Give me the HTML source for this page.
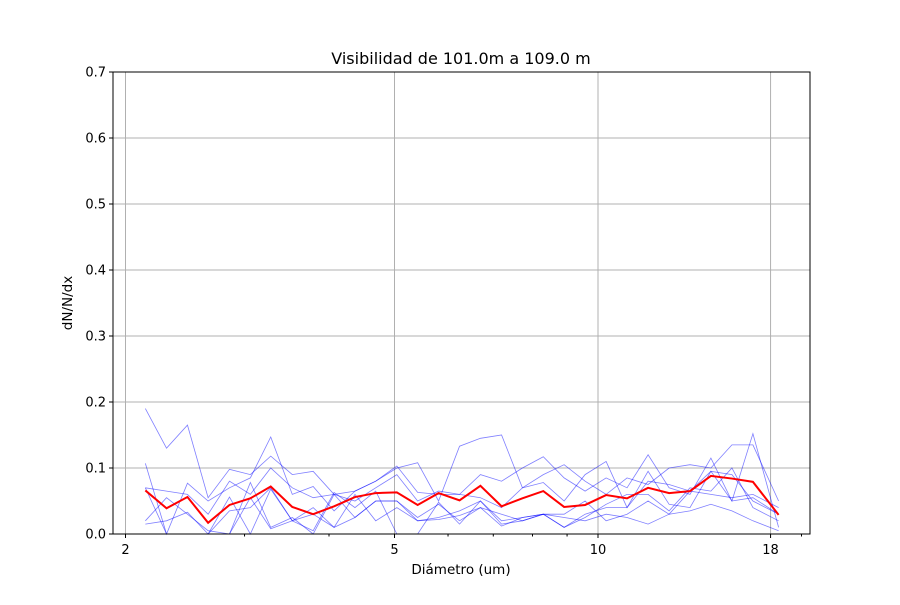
<!DOCTYPE html>
<html><head><meta charset="utf-8"><style>
html,body{margin:0;padding:0;background:#fff}
svg text{font-family:"DejaVu Sans","Liberation Sans",sans-serif;fill:#000}
</style></head><body>
<svg id="chart" width="900" height="600" xmlns="http://www.w3.org/2000/svg">
<rect width="900" height="600" fill="#fff"/>
<g id="grid"></g>
<g id="series"></g>
<g id="axes"></g>
<text x="461" y="64" font-size="16" text-anchor="middle">Visibilidad de 101.0m a 109.0 m</text>
<text x="461" y="574" font-size="13.5" text-anchor="middle">Diámetro (um)</text>
<text transform="translate(72,303) rotate(-90)" font-size="13.5" text-anchor="middle">dN/N/dx</text>
</svg>
<script>
const diameters=[2.14,2.3,2.47,2.65,2.85,3.06,3.28,3.53,3.79,4.07,4.37,4.69,5.04,5.41,5.81,6.24,6.7,7.2,7.73,8.3,8.91,9.57,10.28,11.04,11.86,12.74,13.68,14.69,15.78,16.95,18.5];
const meanSeries=[0.066,0.039,0.056,0.017,0.044,0.054,0.072,0.041,0.030,0.042,0.056,0.062,0.063,0.044,0.062,0.051,0.073,0.042,0.054,0.065,0.041,0.044,0.059,0.054,0.070,0.062,0.065,0.088,0.084,0.079,0.029];
const s1=[0.19,0.13,0.165,0.055,0.098,0.09,0.118,0.09,0.095,0.06,0.065,0.08,0.1,0.108,0.05,0.133,0.145,0.15,0.07,0.09,0.105,0.08,0.06,0.085,0.075,0.1,0.105,0.1,0.135,0.135,0.05];
const s2=[0.107,0.0,0.077,0.05,0.07,0.085,0.147,0.06,0.072,0.035,0.065,0.08,0.103,0.063,0.06,0.06,0.09,0.08,0.1,0.117,0.085,0.065,0.085,0.07,0.12,0.07,0.06,0.115,0.05,0.152,0.01];
const s3=[0.07,0.065,0.06,0.03,0.08,0.06,0.1,0.07,0.055,0.06,0.05,0.07,0.09,0.05,0.065,0.06,0.055,0.04,0.07,0.078,0.05,0.09,0.11,0.04,0.08,0.075,0.065,0.095,0.09,0.05,0.03];
const s4=[0.015,0.02,0.033,0.0,0.035,0.04,0.07,0.02,0.04,0.01,0.06,0.02,0.04,0.02,0.025,0.035,0.05,0.015,0.02,0.03,0.01,0.03,0.04,0.04,0.095,0.045,0.04,0.095,0.05,0.055,0.03];
const s5=[0.07,0.0,0.0,0.0,0.056,0.0,0.068,0.02,0.005,0.063,0.04,0.065,0.0,0.0,0.048,0.015,0.05,0.02,0.025,0.03,0.01,0.025,0.045,0.06,0.06,0.035,0.07,0.065,0.1,0.04,0.02];
const s6=[0.0,0.0,0.0,0.0,0.0,0.078,0.01,0.025,0.0,0.06,0.025,0.05,0.05,0.025,0.045,0.02,0.04,0.03,0.02,0.03,0.025,0.02,0.03,0.025,0.015,0.03,0.035,0.045,0.035,0.02,0.005];
const s7=[0.02,0.055,0.03,0.005,0.0,0.055,0.008,0.02,0.03,0.01,0.025,0.05,0.05,0.02,0.022,0.028,0.04,0.012,0.025,0.03,0.03,0.05,0.02,0.03,0.05,0.03,0.065,0.06,0.055,0.06,0.04];
const xTicks=[2,5,10,18];
const xMinor=[3,4,6,7,8,9,20];
const yTicks=[0,0.1,0.2,0.3,0.4,0.5,0.6,0.7];
const L=113,R=810,T=72,B=534;
const xs=v=>598+676*Math.log10(v/10);
const ys=v=>B-(v/0.7)*(B-T);
const NS='http://www.w3.org/2000/svg';
function mk(tag,attrs,parent){const e=document.createElementNS(NS,tag);for(const k in attrs)e.setAttribute(k,attrs[k]);parent.appendChild(e);return e;}
const grid=document.getElementById('grid'),ser=document.getElementById('series'),ax=document.getElementById('axes');
yTicks.forEach(t=>{
 const g=mk('line',{x1:L,x2:R,y1:ys(t),y2:ys(t),stroke:'#b0b0b0','stroke-width':1},grid);
 
 
 const tk=mk('line',{x1:L-4,x2:L,y1:ys(t),y2:ys(t),stroke:'#000'},ax);
 
 
 const tx=mk('text',{x:L-7,y:ys(t)+4.5,'font-size':13,'text-anchor':'end'},ax);
 tx.textContent=t.toFixed(1);
 
 
});
xTicks.forEach(t=>{
 const g=mk('line',{x1:xs(t),x2:xs(t),y1:T,y2:B,stroke:'#b0b0b0','stroke-width':1},grid);
 
 
 const tk=mk('line',{x1:xs(t),x2:xs(t),y1:B,y2:B+4,stroke:'#000'},ax);
 
 
 const tx=mk('text',{x:xs(t),y:B+20,'font-size':13,'text-anchor':'middle'},ax);
 tx.textContent=String(t);
 
 
});
xMinor.forEach(t=>{
 const tk=mk('line',{x1:xs(t),x2:xs(t),y1:B,y2:B+2.5,stroke:'#000'},ax);
 
 
});
[s1,s2,s3,s4,s5,s6,s7].forEach(s=>{
 const p=mk('polyline',{points:s.map((v,i)=>xs(diameters[i])+','+ys(v)).join(' '),fill:'none',stroke:'#0000ff','stroke-opacity':0.5,'stroke-width':0.8},ser);
 
 
});
const m=mk('polyline',{points:meanSeries.map((v,i)=>xs(diameters[i])+','+ys(v)).join(' '),fill:'none',stroke:'#ff0000','stroke-width':2},ser);


const fr=mk('rect',{x:L,y:T,width:R-L,height:B-T,fill:'none',stroke:'#000','stroke-width':1},ax);


</script>
</body></html>
